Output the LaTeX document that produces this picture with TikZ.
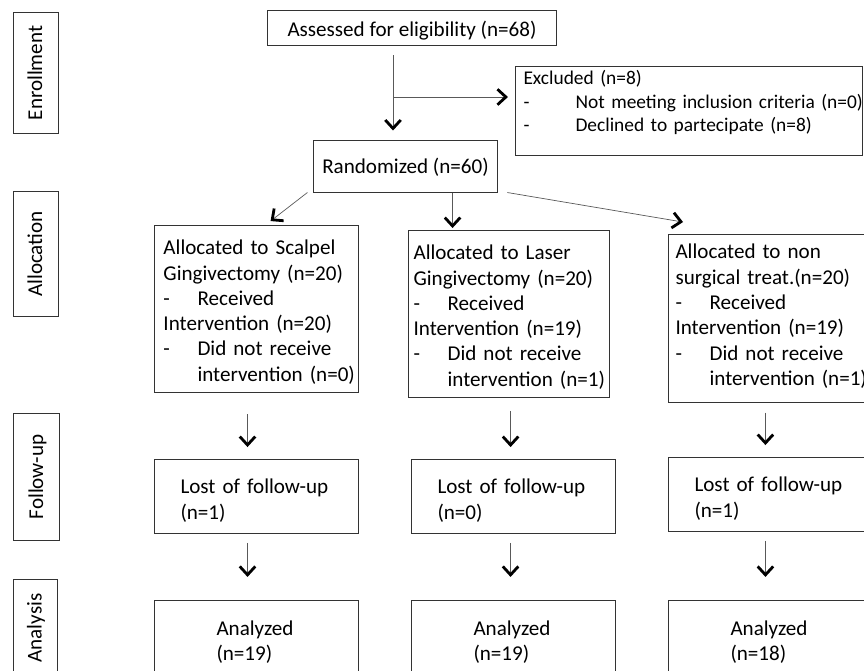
\documentclass[tikz,border=0pt]{standalone}
\usepackage{fontspec}
\setmainfont{Carlito}
\usetikzlibrary{arrows.meta, calc}
\hyphenpenalty=10000
\exhyphenpenalty=10000
\tikzset{ box/.style={draw=black!80, line width=0.7pt, inner ysep=0pt,
            font=\fontsize{15pt}{18pt}\selectfont},
        side/.style={box, rotate=90, inner sep=0pt, text height=9.5pt, text depth=0pt},
        arm/.style={box, align=left, text height=20.8pt, text depth=98pt, anchor=north west},
        lost/.style={box, align=left, inner xsep=18.5pt, text width=108.1pt,
            text height=24.4pt, text depth=28.2pt, anchor=north west},
        done/.style={box, align=left, inner xsep=44.1pt, text width=56.9pt,
            text height=24.9pt, text depth=27.7pt, anchor=north west},
        flow/.style={draw=black!65, line width=0.5pt,
            -{Straight Barb[length=6pt, width=11pt, line width=2pt, color=black]}}}
\newcommand{\tabdash}[1]{\makebox[#1][l]{-}}

\begin{document}
\begin{tikzpicture}[x=0.025cm, y=-0.025cm]
\path[use as bounding box, clip] (0,0) rectangle (864,671);

%phases
\node[side, minimum width=85.4pt, minimum height=32pt] (enr) at (35.5,73) {Enrollment};
\node[side, minimum width=88.2pt, minimum height=32pt] (alc) at (35.5,254) {Allocation};
\node[side, minimum width=91pt, minimum height=33.4pt] (fol) at (36.5,477) {Follow-up};
\node[side, minimum width=69.7pt, minimum height=31.3pt] (ana) at (35,628) {Analysis};

%enrollment
\node[box, minimum width=204.9pt, text height=18.3pt, text depth=5.9pt]
  (asse) at (412,28) {Assessed for eligibility (n=68)};
\node[box, align=left, anchor=north west, inner xsep=5.7pt, text width=235.4pt,
  text height=13pt, text depth=50.3pt, font=\fontsize{13.8pt}{16.6pt}\selectfont]
  (excl) at (515,66)
  {Excluded (n=8)\\
   \tabdash{37pt}Not~meeting~inclusion~criteria~(n=0)\\
   \tabdash{37pt}Declined~to~partecipate~(n=8)};
\node[box, minimum width=130.2pt, text height=23pt, text depth=13.3pt]
  (rand) at (405.5,166.5) {Randomized (n=60)};
\coordinate (split) at (393,97);

%allocation
\node[arm, inner xsep=6.4pt, text width=132.3pt] (scal) at (154,225)
  {Allocated to Scalpel\\ Gingivectomy~(n=20)\\ \tabdash{24.2pt}Received\\
   Intervention~(n=20)\\ \tabdash{24.2pt}Did not receive\\
   \hspace*{24.2pt}intervention~(n=0)};
\node[arm, inner xsep=3.6pt, text width=135.8pt] (lasr) at (408,230)
  {Allocated to Laser\\ Gingivectomy~(n=20)\\ \tabdash{24.2pt}Received\\
   Intervention~(n=19)\\ \tabdash{24.2pt}Did not receive\\
   \hspace*{24.2pt}intervention~(n=1)};
\node[arm, inner xsep=5pt, text width=135.1pt, text height=17.3pt, text depth=102.2pt]
  (nons) at (668,234)
  {Allocated to non\\ surgical~treat.(n=20)\\ \tabdash{24.2pt}Received\\
   Intervention~(n=19)\\ \tabdash{24.2pt}Did not receive\\
   \hspace*{24.2pt}intervention~(n=1)};

%follow-up and analysis
\node[lost] (fsca) at (154,459) {Lost of follow-up\\ (n=1)};
\node[lost] (flas) at (411,459) {Lost of follow-up\\ (n=0)};
\node[lost] (fnon) at (668,457) {Lost of follow-up\\ (n=1)};
\node[done] (asca) at (154,600) {Analyzed\\ (n=19)};
\node[done] (alas) at (411,600) {Analyzed\\ (n=19)};
\node[done] (anon) at (668,600) {Analyzed\\ (n=18)};

\draw[flow, shorten <=7.1pt, shorten >=7.1pt] (asse.south -| split) -- (rand.north -| split);
\draw[flow, shorten >=5pt] (split) -- (excl.west |- split);
\draw[flow] ([xshift=-4.3pt]rand.south west) -- ([xshift=10pt, yshift=2.8pt]scal.north);
\draw[flow, shorten >=1.4pt] ([xshift=-32pt]rand.south east) -- ([xshift=-32pt]rand.south east |- lasr.north);
\draw[flow] ([xshift=7pt]rand.south east) -- ([xshift=10.7pt, yshift=8.5pt]nons.north west);
\foreach \a/\f/\n/\dx/\s/\dy in {scal/fsca/asca/-6.4pt/15pt/-6.4pt,
    lasr/flas/alas/1.1pt/9.2pt/-2.1pt, nons/fnon/anon/-3.6pt/6.9pt/-3.6pt} %arms
  {
  \draw[flow, shorten <=\s, shorten >=8.5pt]
    ([xshift=\dx]\a.south) -- ([xshift=\dx]\a.south |- \f.north);
  \draw[flow, shorten <=6.4pt, shorten >=16.4pt]
    ([xshift=\dy]\f.south) -- ([xshift=\dy]\f.south |- \n.north);
  }

\end{tikzpicture}
\end{document}
